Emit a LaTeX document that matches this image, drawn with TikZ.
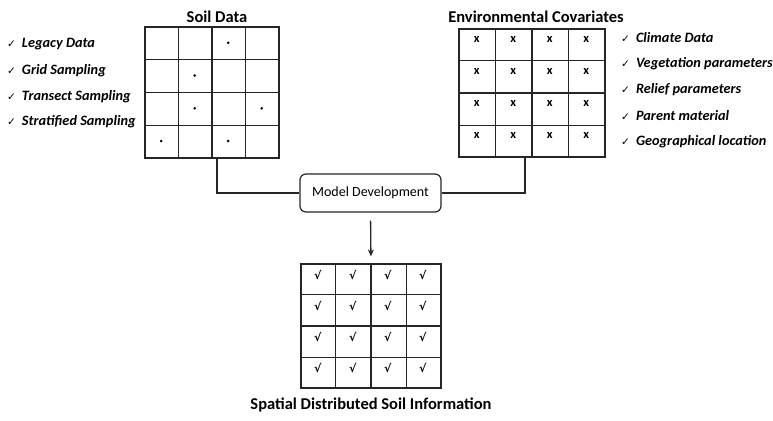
\documentclass[tikz,border=0pt]{standalone}
\usepackage{fontspec}
\setmainfont{Carlito}
\newfontfamily\symfont{DejaVu Sans}
\usetikzlibrary{calc,arrows.meta}

\tikzset{
  gridbox/.style={draw=black!85,line width=1.2pt,inner sep=0pt},
  gridline/.style={draw=black!85,line width=1.1pt},
  title/.style={font=\fontsize{16.5}{18}\selectfont\bfseries},
  listitem/.style={anchor=west,inner sep=0pt,font=\fontsize{14.3}{16}\selectfont\bfseries\itshape},
  cellmark/.style={inner sep=0pt,font=\fontsize{12.5}{13}\selectfont\bfseries},
  link/.style={draw=black!85,line width=1.3pt}
}
\newcommand{\tick}{{\symfont\fontsize{10.5}{12}\selectfont\char"2713}\hspace{6pt}}

\begin{document}
\begin{tikzpicture}[x=1pt,y=-1pt]
  \useasboundingbox (0,0) rectangle (773,420);
  % grids
  \node[gridbox,minimum width=134pt,minimum height=131pt] (soil) at (212,92.5) {};
  \node[gridbox,minimum width=146pt,minimum height=128pt] (env)  at (532,93)   {};
  \node[gridbox,minimum width=140pt,minimum height=124pt] (out)  at (371,326)  {};
  \foreach \g in {soil,env,out}
    \foreach \i in {1,2,3}{
      \draw[gridline] ($(\g.north west)!\i/4!(\g.north east)$) -- ($(\g.south west)!\i/4!(\g.south east)$);
      \draw[gridline] ($(\g.north west)!\i/4!(\g.south west)$) -- ($(\g.north east)!\i/4!(\g.south east)$);
    }

  % titles
  \node[title] (soilT) at (217,17)  {Soil Data};
  \node[title] (envT)  at (536,17)  {Environmental Covariates};
  \node[title] (outT)  at (371,405) {Spatial Distributed Soil Information};

  % cell marks
  \foreach \c/\r in {3/1,2/2,2/3,4/3,1/4,3/4}
    \fill ($(soil.north west)+({(\c-0.5)*33.5},{(\r-0.5)*32.75})$) circle (1.4pt);
  \foreach \c in {1,...,4}
    \foreach \r in {1,...,4}{
      \node[cellmark] at ($(env.north west)+({(\c-0.5)*36.5},{(\r-1)*32+11})$) {x};
      \node[cellmark] at ($(out.north west)+({(\c-0.5)*35},{(\r-1)*31+12})$) {\symfont\bfseries\fontsize{11}{12}\selectfont\char"221A};
    }

  % lists
  \node[listitem] (s1) at (7,44)  {\tick Legacy Data};
  \node[listitem] (s2) at (7,71)  {\tick Grid Sampling};
  \node[listitem] (s3) at (7,97)  {\tick Transect Sampling};
  \node[listitem] (s4) at (7,122) {\tick Stratified Sampling};
  \node[listitem] (e1) at (621,38)  {\tick Climate Data};
  \node[listitem] (e2) at (621,64)  {\tick Vegetation parameters};
  \node[listitem] (e3) at (621,90)  {\tick Relief parameters};
  \node[listitem] (e4) at (621,116) {\tick Parent material};
  \node[listitem] (e5) at (621,142) {\tick Geographical location};

  % model
  \node[draw=black!85,line width=1.2pt,rounded corners=6pt,minimum width=141pt,minimum height=38pt,
        font=\fontsize{14}{16}\selectfont] (model) at (370.5,193) {Model Development};

  \draw[link] ([xshift=5pt]soil.south) |- (model.west);
  \draw[link] ([xshift=-7pt]env.south) |- (model.east);
  \draw[link,-{Stealth[length=7pt,width=6pt]},shorten <=8pt,shorten >=7pt] (model.south) -- (out.north);
\end{tikzpicture}
\end{document}
